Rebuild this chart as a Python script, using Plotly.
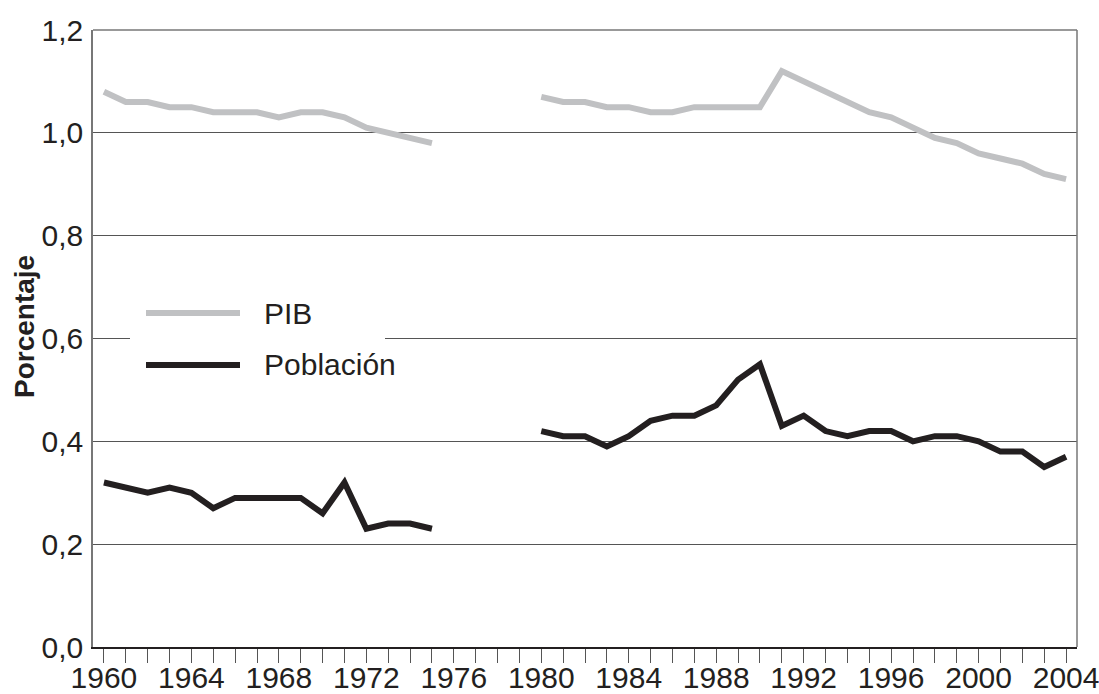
import plotly.graph_objects as go

years = list(range(1960, 2005))

pib_1960_1975 = [1.08, 1.06, 1.06, 1.05, 1.05, 1.04, 1.04, 1.04, 1.03, 1.04, 1.04, 1.03, 1.01, 1.00, 0.99, 0.98]
pib_1980_2004 = [1.07, 1.06, 1.06, 1.05, 1.05, 1.04, 1.04, 1.05, 1.05, 1.05, 1.05, 1.12, 1.10, 1.08, 1.06,
                 1.04, 1.03, 1.01, 0.99, 0.98, 0.96, 0.95, 0.94, 0.92, 0.91]
pob_1960_1975 = [0.32, 0.31, 0.30, 0.31, 0.30, 0.27, 0.29, 0.29, 0.29, 0.29, 0.26, 0.32, 0.23, 0.24, 0.24, 0.23]
pob_1980_2004 = [0.42, 0.41, 0.41, 0.39, 0.41, 0.44, 0.45, 0.45, 0.47, 0.52, 0.55, 0.43, 0.45, 0.42, 0.41,
                 0.42, 0.42, 0.40, 0.41, 0.41, 0.40, 0.38, 0.38, 0.35, 0.37]
gap = [None] * 4  # 1976-1979 missing

pib = pib_1960_1975 + gap + pib_1980_2004
pob = pob_1960_1975 + gap + pob_1980_2004

x_tick_vals = years
x_tick_text = [str(y) if y % 4 == 0 else "" for y in years]
y_tick_vals = [0.0, 0.2, 0.4, 0.6, 0.8, 1.0, 1.2]
y_tick_text = ["0,0", "0,2", "0,4", "0,6", "0,8", "1,0", "1,2"]

series_names = ["PIB", "Población"]
series_colors = ["#c0c1c3", "#231f20"]
y_title = "Porcentaje"

FONT = "Liberation Sans Narrow, Arial Narrow, Liberation Sans, sans-serif"

L, R, T, B = 93, 22, 30, 47
PW, PH = 1099 - L - R, 694 - T - B


def px(xp):
    return (xp - L) / PW


def py(yp):
    return (694 - B - yp) / PH


fig = go.Figure()
fig.add_trace(go.Scatter(x=years, y=pib, mode="lines", name=series_names[0],
                         line=dict(color=series_colors[0], width=6), connectgaps=False,
                         showlegend=False))
fig.add_trace(go.Scatter(x=years, y=pob, mode="lines", name=series_names[1],
                         line=dict(color=series_colors[1], width=6), connectgaps=False,
                         showlegend=False))

# manual legend (white box covering gridline, long sample lines)
shapes = [
    dict(type="rect", xref="paper", yref="paper", x0=px(130), x1=px(385),
         y0=py(390), y1=py(282), fillcolor="white", line=dict(width=0), layer="above"),
]
legend_y = [313, 365]
for i in range(2):
    shapes.append(dict(type="line", xref="paper", yref="paper", x0=px(146), x1=px(240),
                       y0=py(legend_y[i]), y1=py(legend_y[i]),
                       line=dict(color=series_colors[i], width=6), layer="above"))
# top and right border of the frame
shapes.append(dict(type="line", xref="paper", yref="paper", x0=0, x1=1, y0=1, y1=1,
                   line=dict(color="#777777", width=1.5)))
shapes.append(dict(type="line", xref="paper", yref="paper", x0=1, x1=1, y0=0, y1=1,
                   line=dict(color="#777777", width=1.5)))

annotations = []
for i in range(2):
    annotations.append(dict(text=series_names[i], xref="paper", yref="paper", x=px(262), y=py(legend_y[i]),
                            xanchor="left", yanchor="middle", showarrow=False,
                            font=dict(family=FONT, size=30, color="#231f20")))
annotations.append(dict(text="<b>" + y_title + "</b>", xref="paper", yref="paper", x=px(24), y=py(327),
                        xanchor="center", yanchor="middle", textangle=-90, showarrow=False,
                        font=dict(family=FONT, size=28, color="#231f20")))

fig.update_layout(
    width=1099, height=694,
    margin=dict(l=L, r=R, t=T, b=B),
    paper_bgcolor="white", plot_bgcolor="white",
    font=dict(family=FONT, size=30, color="#231f20"),
    shapes=shapes, annotations=annotations,
    xaxis=dict(range=[1959.5, 2004.5], tickvals=x_tick_vals, ticktext=x_tick_text,
               ticks="outside", ticklen=14, tickwidth=1, tickcolor="#555555",
               showgrid=False, zeroline=False, showline=True, linecolor="#231f20", linewidth=1.5,
               mirror=False, tickfont=dict(size=30), automargin=False, ticklabelstandoff=-11,
               ticklabeloverflow="allow"),
    yaxis=dict(range=[0, 1.2], tickvals=y_tick_vals, ticktext=y_tick_text,
               showgrid=True, gridcolor="#555555", gridwidth=1, zeroline=False,
               showline=True, linecolor="#777777", linewidth=1.5, mirror=False,
               ticks="", ticklabelstandoff=2, tickfont=dict(size=30), automargin=False,
               ticklabeloverflow="allow"),
)

fig.write_html("out.html", config={"displayModeBar": False},
               post_script="document.body.style.margin='0';document.body.style.overflow='hidden';")
